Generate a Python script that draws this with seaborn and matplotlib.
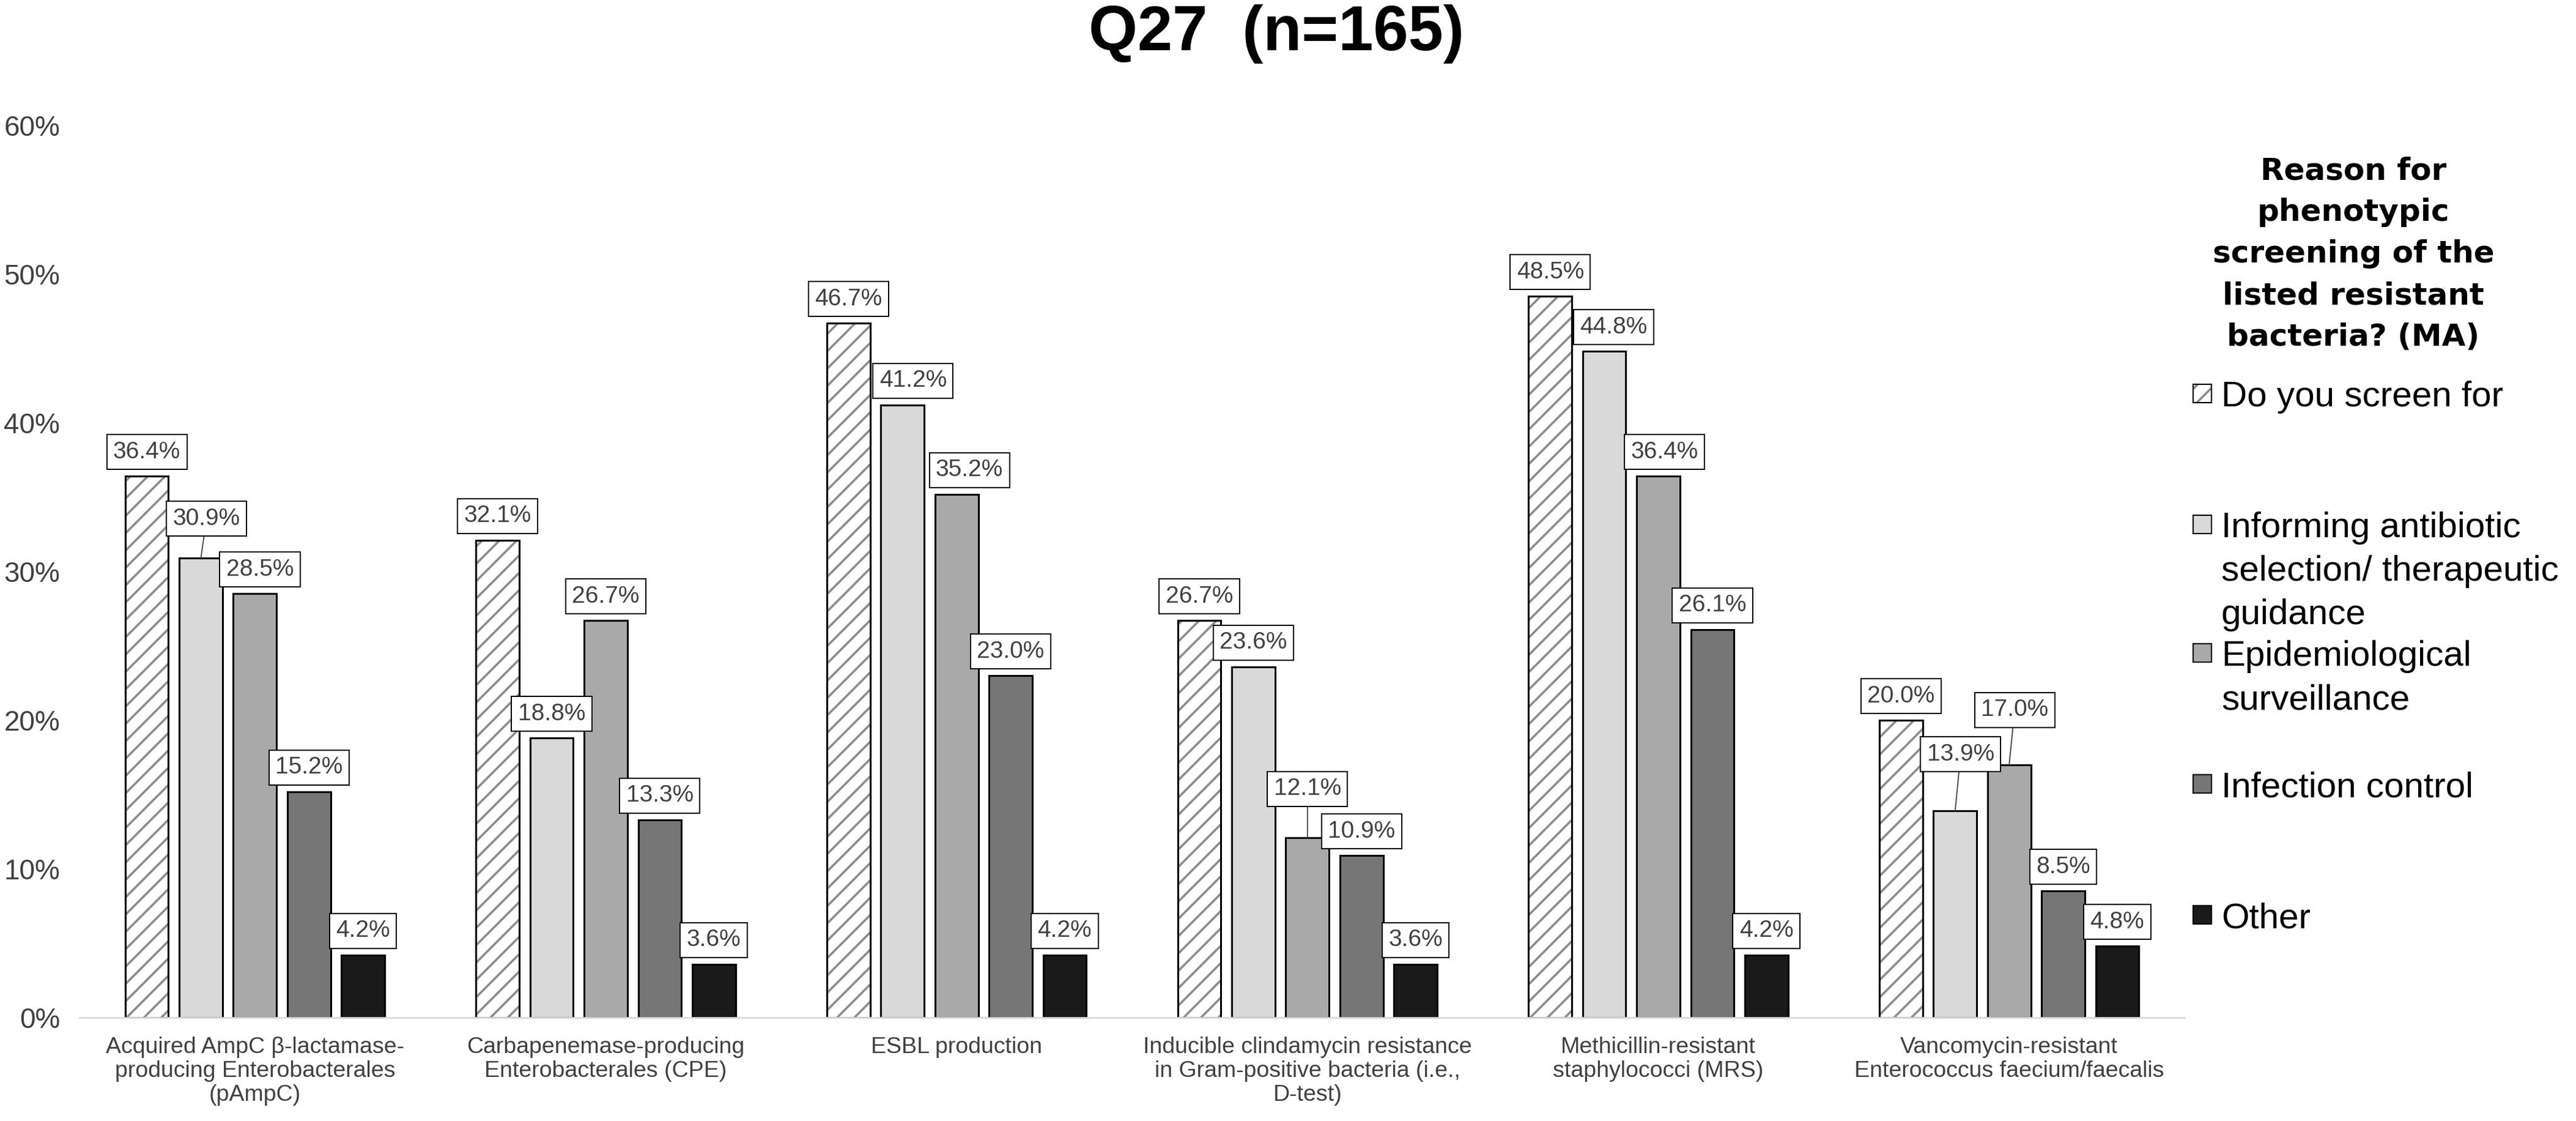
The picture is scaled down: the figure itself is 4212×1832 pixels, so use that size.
import numpy as np
import pandas as pd
import matplotlib
matplotlib.use("Agg")
import matplotlib.pyplot as plt
from matplotlib.patches import Rectangle
from matplotlib.ticker import FuncFormatter
import seaborn as sns

# ---------------- data ----------------
categories = [
    "Acquired AmpC β-lactamase-\nproducing Enterobacterales\n(pAmpC)",
    "Carbapenemase-producing\nEnterobacterales (CPE)",
    "ESBL production",
    "Inducible clindamycin resistance\nin Gram-positive bacteria (i.e.,\nD-test)",
    "Methicillin-resistant\nstaphylococci (MRS)",
    "Vancomycin-resistant\nEnterococcus faecium/faecalis",
]
series = [
    "Do you screen for",
    "Informing antibiotic\nselection/ therapeutic\nguidance",
    "Epidemiological\nsurveillance",
    "Infection control",
    "Other",
]
do_you_screen = [36.4, 32.1, 46.7, 26.7, 48.5, 20.0]
informing_antibiotic = [30.9, 18.8, 41.2, 23.6, 44.8, 13.9]
epidemiological = [28.5, 26.7, 35.2, 12.1, 36.4, 17.0]
infection_control = [15.2, 13.3, 23.0, 10.9, 26.1, 8.5]
other = [4.2, 3.6, 4.2, 3.6, 4.2, 4.8]
values = [do_you_screen, informing_antibiotic, epidemiological, infection_control, other]
y_ticks = [0, 10, 20, 30, 40, 50, 60]
title_text = "Q27  (n=165)"
legend_title = ["Reason for", "phenotypic", "screening of the", "listed resistant", "bacteria? (MA)"]

# ---------------- style ----------------
colors = ["#ffffff", "#d9d9d9", "#a9a9a9", "#767676", "#1a1a1a"]
sns.set_style("white")
plt.rcParams["font.family"] = ["Liberation Sans", "DejaVu Sans"]

W, H, DPI = 4212, 1832, 85
S = 100.0 / DPI          # sizes below are given as points at 100 dpi
PX = 72.0 / DPI          # points per pixel
plt.rcParams["hatch.linewidth"] = 2.6 * S

rows = []
for s, vals in zip(series, values):
    for c, v in zip(categories, vals):
        rows.append({"category": c, "series": s, "value": v})
df = pd.DataFrame(rows)

fig = plt.figure(figsize=(W / DPI, H / DPI), dpi=DPI)
ax_left, ax_right = 130 / W, 3572 / W
ax_bottom, ax_top = (H - 1663) / H, (H - 205) / H
ax = fig.add_axes([ax_left, ax_bottom, ax_right - ax_left, ax_top - ax_bottom])

sns.barplot(data=df, x="category", y="value", hue="series", order=categories,
            hue_order=series, palette=colors, width=0.77, gap=0.2,
            edgecolor="black", linewidth=2.2 * S, ax=ax, legend=False)

# hatched first series: gray hatch + black outline
for p in ax.containers[0]:
    p.set_facecolor("white")
    p.set_edgecolor("#8c8c8c")
    p.set_hatch("/")
    ax.add_patch(Rectangle(p.get_xy(), p.get_width(), p.get_height(), fill=False,
                           edgecolor="black", linewidth=2.2 * S, zorder=p.get_zorder() + 0.1))

ax.set_ylim(0, 60)
ax.set_xlim(-0.5, len(categories) - 0.5)
ax.set_yticks(y_ticks)
ax.yaxis.set_major_formatter(FuncFormatter(lambda v, _: f"{v:.0f}%"))
ax.set_xlabel("")
ax.set_ylabel("")
for side in ["left", "right", "top"]:
    ax.spines[side].set_visible(False)
ax.spines["bottom"].set_color("#d9d9d9")
ax.spines["bottom"].set_linewidth(2.0 * S)
ax.tick_params(axis="y", length=0, pad=23 * S, labelsize=33 * S, labelcolor="#404040")
ax.tick_params(axis="x", length=0, pad=22 * S, labelsize=27 * S, labelcolor="#404040")
for lbl in ax.get_xticklabels():
    lbl.set_linespacing(1.15)
ax.grid(False)

# data labels (nudges in pixels: (category, series) -> (dx, dy))
nudges = {
    (0, 1): (9, 25), (0, 2): (8, 0),
    (2, 1): (17, 0), (2, 2): (21, 0),
    (3, 2): (0, 40),
    (4, 1): (15, 0), (4, 2): (10, 0),
    (5, 1): (9, 53), (5, 2): (9, 50),
}
label_fs = 28 * S
pad_frac = 0.27
base_dy = 11 + pad_frac * label_fs / PX  # px
for si, cont in enumerate(ax.containers):
    for ci, p in enumerate(cont):
        v = values[si][ci]
        x = p.get_x() + p.get_width() / 2
        dx, dy = nudges.get((ci, si), (0, 0))
        kw = {}
        if dy > 0:
            kw["arrowprops"] = dict(arrowstyle="-", color="#404040", lw=1.3 * S,
                                    shrinkA=0, shrinkB=0)
        ax.annotate(f"{v:.1f}%", xy=(x, v), xytext=(dx * PX, (base_dy + dy) * PX),
                    textcoords="offset points", ha="center", va="bottom",
                    fontsize=label_fs, color="#404040", zorder=5,
                    bbox=dict(boxstyle=f"square,pad={pad_frac}", fc="white",
                              ec="black", lw=1.4 * S), **kw)

# title
fig.text(2087 / W, (H - 82) / H, title_text, ha="center", va="baseline",
         fontsize=74 * S, fontweight="bold", color="black")

# legend (manual, Excel-like: marker aligned with first text line)
leg_cx = 3848
for k, line in enumerate(legend_title):
    fig.text(leg_cx / W, (H - (293 + 68 * k)) / H, line, ha="center", va="baseline",
             fontsize=36 * S, fontweight="bold", color="black", family="DejaVu Sans")

entry_centers = [643, 857, 1067, 1281, 1495]
msize = 30
for si, (name, yc) in enumerate(zip(series, entry_centers)):
    src = ax.containers[si][0]
    face = src.get_facecolor()
    y0 = (H - yc - msize / 2) / H
    if si == 0:
        fig.add_artist(Rectangle((3586 / W, y0), msize / W, msize / H,
                                 transform=fig.transFigure, facecolor="white",
                                 edgecolor="#8c8c8c", hatch="/", linewidth=1.5 * S))
        fig.add_artist(Rectangle((3586 / W, y0), msize / W, msize / H,
                                 transform=fig.transFigure, fill=False,
                                 edgecolor="black", linewidth=1.5 * S))
    else:
        fig.add_artist(Rectangle((3586 / W, y0), msize / W, msize / H,
                                 transform=fig.transFigure, facecolor=face,
                                 edgecolor="black", linewidth=1.5 * S))
    for k, line in enumerate(name.split("\n")):
        fig.text(3632 / W, (H - (yc + 21 + 71 * k)) / H, line, ha="left", va="baseline",
                 fontsize=42 * S, color="black")

fig.savefig("out.png", dpi=DPI, facecolor="white")
